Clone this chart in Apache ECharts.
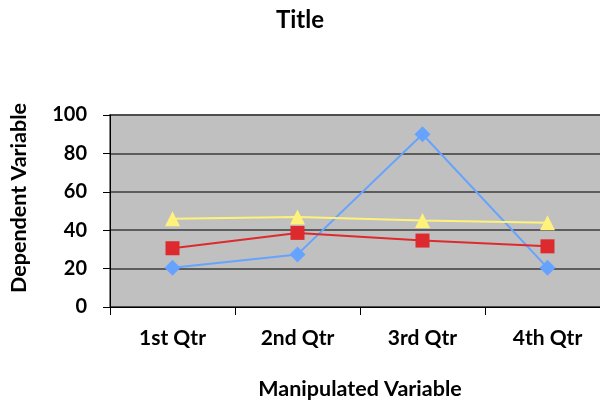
<!DOCTYPE html>
<html>
<head>
<meta charset="utf-8">
<script src="https://cdn.jsdelivr.net/npm/echarts@6/dist/echarts.min.js"></script>
<style>
  html, body { margin: 0; padding: 0; background: #fff; }
  #chart { width: 600px; height: 400px; }
</style>
</head>
<body>
<div id="chart"></div>
<script>
// Quarterly values per series
const quarters = ['1st Qtr', '2nd Qtr', '3rd Qtr', '4th Qtr'];
const east = [20.4, 27.4, 90, 20.4];
const west = [30.6, 38.6, 34.6, 31.6];
const north = [45.9, 46.9, 45, 43.9];
const yTicks = { min: 0, max: 100, step: 20 };
const yTitle = 'Dependent Variable';

const font = 'Lato, "Open Sans", sans-serif';

function lineSeries(name, data, color, symbol, size) {
  return {
    name: name,
    type: 'line',
    data: data,
    symbol: symbol,
    symbolSize: size,
    showSymbol: true,
    lineStyle: { color: color, width: 2 },
    itemStyle: { color: color, borderWidth: 0 },
    emphasis: { disabled: true },
    animation: false
  };
}

const chart = echarts.init(document.getElementById('chart'));
chart.setOption({
  animation: false,
  backgroundColor: '#ffffff',
  title: {
    text: 'Title',
    left: 'center',
    top: 3,
    textStyle: { fontFamily: font, fontWeight: 'bold', fontSize: 24, color: '#000' }
  },
  // vertical axis title, placed a little above the plot's centre
  graphic: [{
    type: 'text',
    x: 19,
    y: 198,
    rotation: Math.PI / 2,
    style: {
      text: yTitle,
      fontFamily: font,
      fontWeight: 'bold',
      fontSize: 21.5,
      fill: '#000',
      align: 'center',
      verticalAlign: 'middle'
    }
  }],
  grid: {
    left: 110,
    top: 115,
    width: 500,
    height: 192,
    show: true,
    backgroundColor: '#C0C0C0',
    borderColor: '#808080',
    borderWidth: 2,
    containLabel: false,
    outerBoundsMode: 'none'
  },
  xAxis: {
    type: 'category',
    data: quarters,
    boundaryGap: true,
    name: 'Manipulated Variable',
    nameLocation: 'middle',
    nameGap: 71,
    nameTextStyle: { fontFamily: font, fontWeight: 'bold', fontSize: 21.5, color: '#000' },
    axisLine: { lineStyle: { color: '#000', width: 1 } },
    axisTick: { show: true, length: 8, lineStyle: { color: '#000' } },
    axisLabel: { margin: 21, fontFamily: font, fontWeight: 'bold', fontSize: 21, color: '#000' },
    splitLine: { show: false }
  },
  yAxis: {
    type: 'value',
    min: yTicks.min,
    max: yTicks.max,
    interval: yTicks.step,
    axisLine: { show: true, lineStyle: { color: '#000', width: 1 } },
    axisTick: { show: true, length: 7, lineStyle: { color: '#000' } },
    axisLabel: { margin: 23, fontFamily: font, fontWeight: 'bold', fontSize: 20, color: '#000' },
    splitLine: { show: true, lineStyle: { color: '#3c3c3c', width: 1.5 } }
  },
  series: [
    lineSeries('East', east, '#66A3FF', 'diamond', 16),
    lineSeries('West', west, '#DD2A2E', 'rect', 14),
    lineSeries('North', north, '#FFF27A', 'triangle', 15)
  ]
});
</script>
</body>
</html>
